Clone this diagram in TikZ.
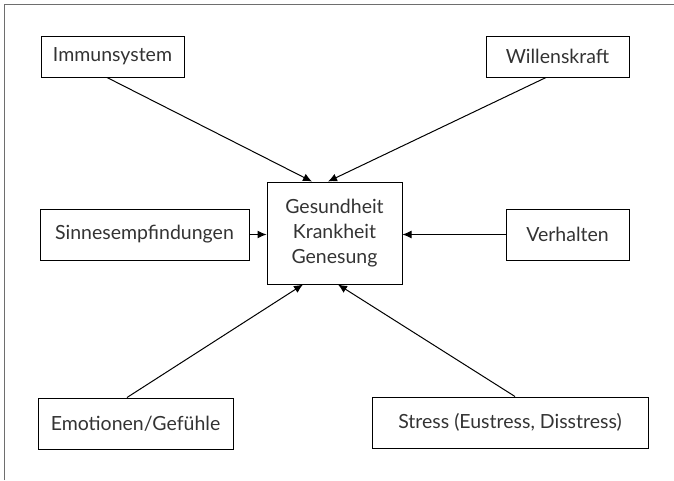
\documentclass[tikz,border=0pt]{standalone}
\usepackage{fontspec}
\setmainfont{Lato}
\usetikzlibrary{arrows.meta}
\definecolor{txt}{HTML}{333333}
\definecolor{frame}{HTML}{6E6E6E}
\begin{document}
\begin{tikzpicture}[x=1pt,y=-1pt,
  box/.style={draw=black, line width=1pt, inner sep=0pt, font=\fontsize{19.5}{25}\selectfont, text=txt, align=center},
  conn/.style={line width=1pt, -{Latex[length=9pt,width=8pt]}}]
\useasboundingbox (0,0) rectangle (674,480);
\draw[frame, line width=1.5pt] (4.5,480) -- (4.5,4.5) -- (674,4.5);
\node[box, minimum width=143pt, minimum height=41pt] (imm) at (112.5,56.5) {Immunsystem};
\node[box, minimum width=143pt, minimum height=41pt] (wil) at (557.5,56.5) {Willenskraft};
\node[box, minimum width=135pt, minimum height=102pt] (ctr) at (334.5,233) {Gesundheit\\Krankheit\\Genesung};
\node[box, minimum width=209pt, minimum height=51pt] (sin) at (144.5,234.5) {Sinnesempfindungen};
\node[box, minimum width=123pt, minimum height=51pt] (ver) at (567.5,234.5) {Verhalten};
\node[box, minimum width=195pt, minimum height=51pt] (emo) at (135.5,423.5) {Emotionen/Gefühle};
\node[box, minimum width=276pt, minimum height=51pt] (str) at (510,422.5) {Stress (Eustress, Disstress)};
\draw[conn] ([xshift=-5.5pt]imm.south) -- ([xshift=-22.5pt]ctr.north);
\draw[conn] ([xshift=-11.5pt]wil.south) -- ([xshift=-6.5pt]ctr.north);
\draw[conn] (sin.east) -- (ctr.west |- sin.east);
\draw[conn] (ver.west) -- (ctr.east |- ver.west);
\draw[conn] ([xshift=-8.5pt]emo.north) -- ([xshift=-31.5pt]ctr.south);
\draw[conn] ([xshift=5pt]str.north) -- ([xshift=3.5pt]ctr.south);
\end{tikzpicture}
\end{document}
